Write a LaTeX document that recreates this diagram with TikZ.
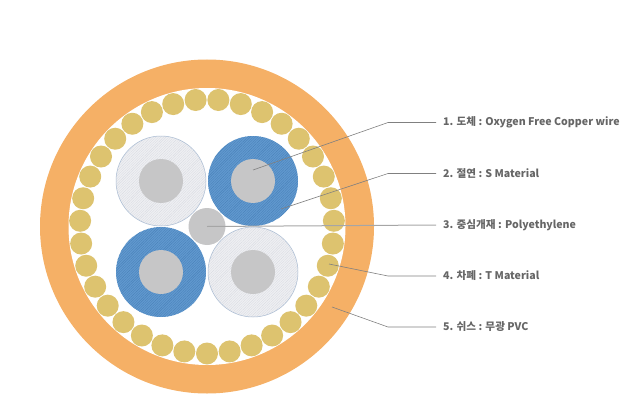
\documentclass[tikz,border=0pt]{standalone}
\usepackage{fontspec}
\setmainfont{Noto Sans CJK KR}
\usetikzlibrary{positioning, patterns.meta}
\definecolor{sheathc}{HTML}{F5B066}
\definecolor{strandc}{HTML}{DDC36F}
\definecolor{condc}{HTML}{C6C6C7}
\definecolor{bluec}{HTML}{6199CF}
\definecolor{bluehatch}{HTML}{4A82BA}
\definecolor{palec}{HTML}{EFF0F3}
\definecolor{palehatch}{HTML}{DADCE3}
\definecolor{edgec}{HTML}{A9BBD2}
\definecolor{leadc}{HTML}{808080}
\definecolor{textc}{HTML}{666666}
\tikzset{
  disc/.style = {circle, inner sep=0pt, outer sep=0pt},
  sheath/.style = {disc, fill=sheathc, minimum size=334pt},
  hollow/.style = {disc, fill=white, minimum size=277pt},
  strand/.style = {disc, fill=strandc, minimum size=22pt},
  condr/.style = {disc, fill=condc, minimum size=44pt},
  filler/.style = {disc, fill=condc, minimum size=37pt},
  insblue/.style = {disc, minimum size=90pt, preaction={fill=bluec},
    pattern={Lines[angle=45, distance=1.8pt, line width=.4pt]}, pattern color=bluehatch},
  inspale/.style = {disc, minimum size=90pt, preaction={fill=palec}, draw=edgec, line width=.5pt,
    pattern={Lines[angle=45, distance=1.8pt, line width=.4pt]}, pattern color=palehatch},
  leader/.style = {draw=leadc, line width=.6pt},
  partlabel/.style = {inner xsep=7pt, inner ysep=0pt, anchor=west, text=textc, font=\fontsize{10.6}{12}\selectfont\bfseries},
}
\begin{document}
\begin{tikzpicture}[x=1pt, y=1pt, node distance = 46pt, on grid]
    \useasboundingbox (0,0) rectangle (640,400);

    \node (outer) [sheath] at (207,173.5) {};
    \node (inner) [hollow] at (outer) {};
    \foreach \i in {0,...,34}
        \node (s\i) [strand] at ([shift={(270+\i*10.2857:127)}]outer) {};

    \node (ins1) [inspale, above left = 45.5 and 46 of outer] {};
    \node (ins2) [insblue, above right = 45.5 and 46 of outer] {};
    \node (ins3) [insblue, below left = 45.5 and 46 of outer] {};
    \node (ins4) [inspale, below right = 45.5 and 46 of outer] {};
    \foreach \i in {1,...,4}
        \node (c\i) [condr] at (ins\i) {};
    \node (fill) [filler] at (outer) {};

    \node (lab1) [partlabel] at (436,277.5) {1. 도체 : Oxygen Free Copper wire};
    \node (lab2) [partlabel, below = 51 of lab1.west, anchor=west] {2. 절연 : S Material};
    \node (lab3) [partlabel, below = 51.5 of lab2.west, anchor=west] {3. 중심개재 : Polyethylene};
    \node (lab4) [partlabel, below = 51 of lab3.west, anchor=west] {4. 차폐 : T Material};
    \node (lab5) [partlabel, below = 51 of lab4.west, anchor=west] {5. 쉬스 : 무광 PVC};

    % leader ends and elbows
    \coordinate (p1) at (253,230);
    \coordinate (p2) at (281,191);
    \coordinate (p4) at (329,136);
    \coordinate (p5) at (332,93);
    \coordinate (e1) at (388,277.5);
    \coordinate (e2) at (388,226.5);
    \coordinate (e4) at (388,124);
    \coordinate (e5) at (388,73);

    \draw [leader] (p1) -- (e1) -- (lab1.west);
    \draw [leader] (p2) -- (e2) -- (lab2.west);
    \draw [leader, draw=leadc!70, line width=1pt] (fill.center) -- (lab3.west);
    \draw [leader] (p4) -- (e4) -- (lab4.west);
    \draw [leader] (p5) -- (e5) -- (lab5.west);
\end{tikzpicture}
\end{document}
